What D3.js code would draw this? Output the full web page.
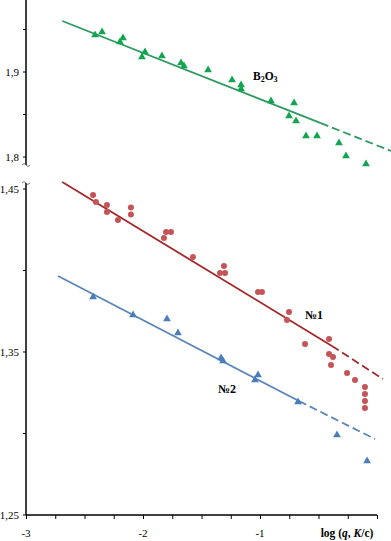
<!DOCTYPE html>
<html>
<head>
<meta charset="utf-8">
<script src="https://cdn.jsdelivr.net/npm/d3@7"></script>
<style>
  body { margin: 0; background: #fff; }
  text { font-family: "Liberation Serif", "DejaVu Serif", serif; }
</style>
</head>
<body>
<script>

// B2O3 points (top panel), [log q, value]
const b2o3Points = [
    [-2.410, 1.9435], [-2.350, 1.9471], [-2.197, 1.9353], [-2.171, 1.9400],
    [-2.009, 1.9176], [-1.983, 1.9235], [-1.838, 1.9188], [-1.675, 1.9106],
    [-1.650, 1.9071], [-1.444, 1.9024], [-1.239, 1.8906], [-1.162, 1.8847],
    [-1.162, 1.8800], [-0.906, 1.8659], [-0.709, 1.8635], [-0.752, 1.8482],
    [-0.692, 1.8424], [-0.607, 1.8247], [-0.513, 1.8247], [-0.325, 1.8165],
    [-0.265, 1.8012], [-0.094, 1.7918]
];

// sample 1 points (bottom panel, circles)
const n1Points = [
    [-2.427, 1.4463], [-2.402, 1.4420], [-2.308, 1.4402], [-2.308, 1.4359],
    [-2.214, 1.4310], [-2.103, 1.4387], [-2.103, 1.4344], [-1.803, 1.4236],
    [-1.821, 1.4199], [-1.761, 1.4236], [-1.573, 1.4083], [-1.308, 1.4028],
    [-1.342, 1.3985], [-1.299, 1.3985], [-1.017, 1.3868], [-0.983, 1.3868],
    [-0.752, 1.3745], [-0.769, 1.3696], [-0.615, 1.3549], [-0.410, 1.3580],
    [-0.410, 1.3488], [-0.376, 1.3469], [-0.393, 1.3420], [-0.256, 1.3371],
    [-0.188, 1.3328], [-0.103, 1.3285], [-0.103, 1.3242], [-0.103, 1.3199],
    [-0.103, 1.3156]
];

// sample 2 points (bottom panel, triangles)
const n2Points = [
    [-2.427, 1.3837], [-2.085, 1.3727], [-1.795, 1.3702], [-1.701, 1.3617],
    [-1.333, 1.3463], [-1.316, 1.3445], [-1.017, 1.3359], [-1.043, 1.3328],
    [-0.675, 1.3193], [-0.342, 1.2991], [-0.085, 1.2831]
];

// fit lines: solid part, then dashed extrapolation
const b2o3Solid = [[-2.69, 1.9600], [-0.48, 1.8398]];
const b2o3Dashed = [[-0.48, 1.8398], [0.12, 1.8071]];
const n1Solid = [[-2.69, 1.4543], [-0.385, 1.3537]];
const n1Dashed = [[-0.385, 1.3537], [0.051, 1.3334]];
const n2Solid = [[-2.726, 1.3966], [-0.667, 1.3199]];
const n2Dashed = [[-0.667, 1.3199], [-0.017, 1.2966]];

// axis ticks
const xMajorTicks = [-3, -2, -1];
const xMinorTicks = d3.range(-3, 0.001, 0.25);
const topMajorTicks = [1.8, 1.9];
const topMinorTicks = [1.85, 1.95];
const bottomMajorTicks = [1.25, 1.35, 1.45];
const bottomMinorTicks = [1.30, 1.40];

const width = 391;
const height = 541;
const axisX = 26;
const plotRight = 377;
const topPanelTop = 0;
const topPanelBottom = 165;
const bottomPanelTop = 183;
const bottomPanelBottom = 515;

const green = "#12a550";
const greenLine = "#2e9a62";
const red = "#c45456";
const redLine = "#a3282a";
const blue = "#4a7ebb";
const blueLine = "#5a86b8";

const x = d3.scaleLinear([-3, 0], [axisX, plotRight]);
const yTop = d3.scaleLinear([1.79059, 1.98471], [topPanelBottom, topPanelTop]);
const yBottom = d3.scaleLinear([1.25, 1.45368], [bottomPanelBottom, bottomPanelTop]);

const svg = d3.select("body").append("svg")
    .attr("width", width)
    .attr("height", height)
    .attr("viewBox", [0, 0, width, height]);

// Y axes (no default ticks, drawn by hand so minor ticks have no label)
function yAxis(scale, major, minor, top, bottom) {
    const g = svg.append("g").attr("transform", `translate(${axisX},0)`);
    g.append("line")
        .attr("y1", top).attr("y2", bottom)
        .attr("stroke", "#000").attr("stroke-width", 1.5);
    g.selectAll(".minor")
        .data(major.concat(minor))
        .enter().append("line")
        .attr("x1", -3).attr("x2", 0)
        .attr("y1", d => scale(d)).attr("y2", d => scale(d))
        .attr("stroke", "#000").attr("stroke-width", 1);
    g.selectAll(".lab")
        .data(major)
        .enter().append("text")
        .attr("x", -7)
        .attr("y", d => scale(d))
        .attr("dy", "0.35em")
        .attr("text-anchor", "end")
        .attr("font-size", "11px")
        .text(d => d3.format(".2~f")(d).replace(".", ","));
}
yAxis(yTop, topMajorTicks, topMinorTicks, topPanelTop, topPanelBottom);
yAxis(yBottom, bottomMajorTicks, bottomMinorTicks, bottomPanelTop, bottomPanelBottom);

// break marks
[topPanelBottom - 1, bottomPanelTop - 1].forEach(yy => {
    svg.append("path")
        .attr("d", `M${axisX - 4},${yy + 1} q2,-3 4,0 t4,0`)
        .attr("fill", "none")
        .attr("stroke", "#555")
        .attr("stroke-width", 0.8);
});

// X axis
svg.append("g")
    .attr("transform", `translate(0,${bottomPanelBottom})`)
    .call(d3.axisBottom(x).tickValues(xMinorTicks).tickSize(4).tickFormat(""))
    .call(g => g.select(".domain").attr("stroke-width", 1.5).attr("d", `M${axisX},0H${plotRight}`))
    .call(g => g.selectAll(".tick line").attr("stroke-width", 1));

svg.selectAll(".xlab")
    .data(xMajorTicks)
    .enter().append("text")
    .attr("x", d => x(d))
    .attr("y", 537)
    .attr("text-anchor", "middle")
    .attr("font-size", "11px")
    .text(d => d);

const xTitle = svg.append("text")
    .attr("x", 347)
    .attr("y", 537)
    .attr("text-anchor", "middle")
    .attr("font-size", "11.5px")
    .attr("font-weight", "bold");
xTitle.append("tspan").text("log (");
xTitle.append("tspan").attr("font-style", "italic").text("q");
xTitle.append("tspan").text(", ");
xTitle.append("tspan").attr("font-style", "italic").text("K");
xTitle.append("tspan").text("/c)");

// Fit lines
function fitLine(data, scale, color, dashed) {
    const line = d3.line().x(d => x(d[0])).y(d => scale(d[1]));
    svg.append("path")
        .attr("fill", "none")
        .attr("stroke", color)
        .attr("stroke-width", 1.8)
        .attr("stroke-dasharray", dashed ? "8,4" : null)
        .attr("d", line(data));
}
fitLine(b2o3Solid, yTop, greenLine, false);
fitLine(b2o3Dashed, yTop, greenLine, true);
fitLine(n1Solid, yBottom, redLine, false);
fitLine(n1Dashed, yBottom, redLine, true);
fitLine(n2Solid, yBottom, blueLine, false);
fitLine(n2Dashed, yBottom, blueLine, true);

// markers
const tri = d3.symbol().type(d3.symbolTriangle).size(26);

svg.selectAll(".g-pt")
    .data(b2o3Points)
    .enter().append("path")
    .attr("d", tri)
    .attr("transform", d => `translate(${x(d[0])},${yTop(d[1])})`)
    .attr("fill", green);

svg.selectAll(".r-pt")
    .data(n1Points)
    .enter().append("circle")
    .attr("r", 3)
    .attr("cx", d => x(d[0]))
    .attr("cy", d => yBottom(d[1]))
    .attr("fill", red);

svg.selectAll(".b-pt")
    .data(n2Points)
    .enter().append("path")
    .attr("d", tri)
    .attr("transform", d => `translate(${x(d[0])},${yBottom(d[1])})`)
    .attr("fill", blue);

// series labels
const b2o3Label = svg.append("text")
    .attr("x", x(-1.06))
    .attr("y", yTop(1.8906))
    .attr("font-size", "11.5px")
    .attr("font-weight", "bold");
b2o3Label.append("tspan").text("B");
b2o3Label.append("tspan").attr("font-size", "8px").attr("dy", 2).text("2");
b2o3Label.append("tspan").attr("dy", -2).text("O");
b2o3Label.append("tspan").attr("font-size", "8px").attr("dy", 2).text("3");

svg.append("text")
    .attr("x", x(-0.615))
    .attr("y", yBottom(1.3702))
    .attr("font-size", "12px")
    .attr("font-weight", "bold")
    .text("№1");

svg.append("text")
    .attr("x", x(-1.359))
    .attr("y", yBottom(1.3248))
    .attr("font-size", "12px")
    .attr("font-weight", "bold")
    .text("№2");

</script>
</body>
</html>
